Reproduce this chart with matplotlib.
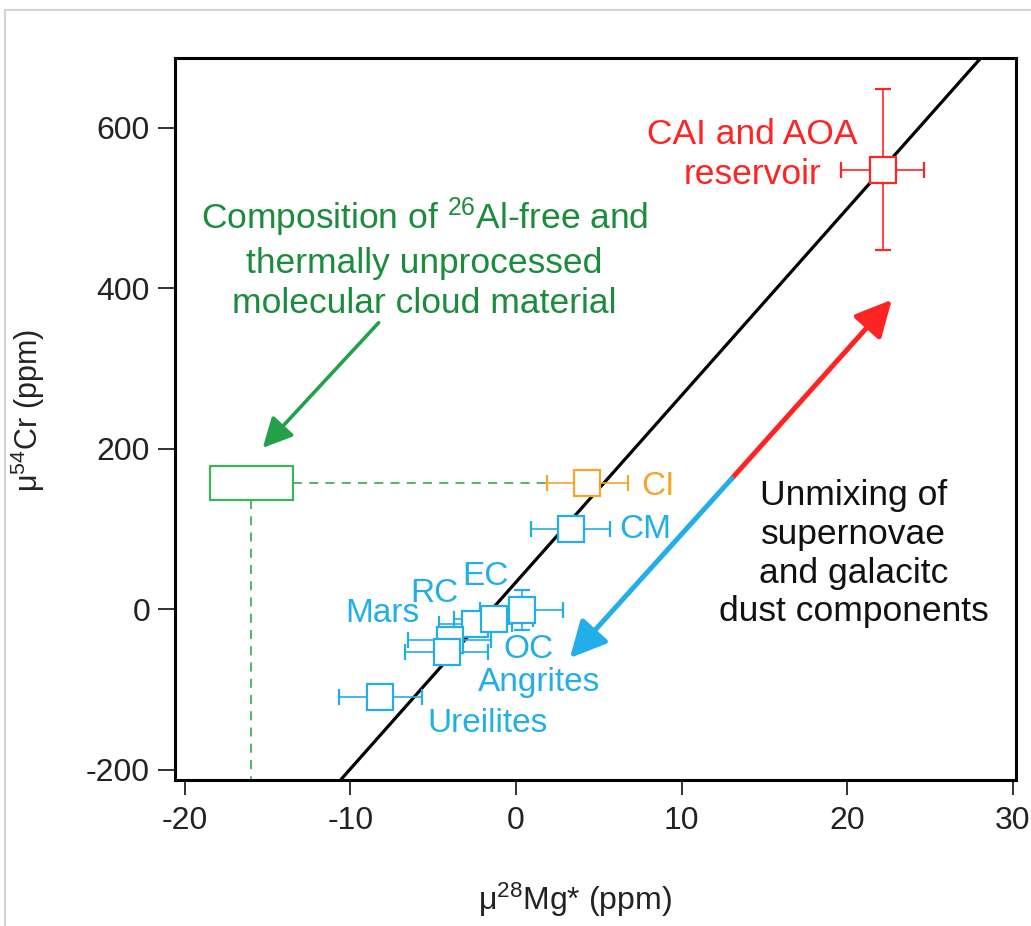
import matplotlib
matplotlib.use('Agg')
import matplotlib.pyplot as plt
from matplotlib.patches import Rectangle, FancyArrowPatch
from matplotlib.lines import Line2D
import numpy as np

plt.rcParams['font.family'] = ['Liberation Sans', 'DejaVu Sans']
plt.rcParams['mathtext.default'] = 'regular'

# ---------------- data ----------------
cai_x, cai_y, cai_xerr, cai_yerr = 22.15, 548, 2.5, 100
ci_x, ci_y, ci_xerr = 4.3, 157, 2.45
cm_x, cm_y, cm_xerr = 3.3, 100, 2.4
# cluster (Mars, RC, EC, OC, Angrites ...) and Ureilites
blue_x = [-2.45, -4.0, -1.35, 0.35, -4.2, -8.2]
blue_y = [-18, -38, -12, -1, -54, -110]
blue_xerr = [2.2, 2.5, 2.4, 2.5, 2.5, 2.5]
blue_yerr = [0, 0, 0, 25, 0, 0]

# 26Al-free molecular cloud composition box
cloud_x = [-18.5, -13.45]
cloud_y = [136, 178]
cloud_x_center = -16.0
cloud_y_center = 157

# correlation line
fit_slope = 23.27
fit_intercept = 33.7

# unmixing arrow (start at junction, ends)
mix_start = (13.03, 162.7)
mix_red_end = (22.7, 385.7)
mix_blue_end = (3.25, -61)
# green annotation arrow
green_arrow_start = (-8.3, 357)
green_arrow_end = (-15.3, 201)

xticks = [-20, -10, 0, 10, 20, 30]
yticks = [-200, 0, 200, 400, 600]
xlim = (-20.6, 30.2)
ylim = (-213, 687)

BLUE = '#22aee8'
ORANGE = '#f5a52a'
RED = '#ff2424'
GREEN_T = '#1a8c3c'
GREEN_L = '#3cb45a'

W, H = 1031, 926
fig = plt.figure(figsize=(W / 100, H / 100), dpi=100)
fig.patch.set_facecolor('white')

# light grey frame of the picture
fig.add_artist(Line2D([5 / W, 1.0], [1 - 10 / H, 1 - 10 / H], color='#d4d4d4', lw=1.5,
                      transform=fig.transFigure))
fig.add_artist(Line2D([5 / W, 5 / W], [0, 1 - 10 / H], color='#d4d4d4', lw=1.5,
                      transform=fig.transFigure))

ax = fig.add_axes([175 / W, 1 - 780 / H, 841 / W, 722 / H])
ax.set_xlim(*xlim)
ax.set_ylim(*ylim)

for s in ax.spines.values():
    s.set_linewidth(2.2)
    s.set_color('black')

ax.set_xticks(xticks)
ax.set_yticks(yticks)
ax.set_xticklabels([str(v) for v in xticks])
ax.set_yticklabels([str(v) for v in yticks])
ax.tick_params(axis='x', direction='out', length=11, width=1.3, pad=8, labelsize=23,
               colors='#222222')
ax.tick_params(axis='y', direction='out', length=12, width=1.3, pad=6, labelsize=23,
               colors='#222222')

# correlation line
xx = np.array(xlim)
ax.plot(xx, fit_slope * xx + fit_intercept, color='black', lw=2.3, zorder=3,
        solid_capstyle='butt')

# dashed projection lines
ax.plot([cloud_x[1], ci_x - ci_xerr], [cloud_y_center, cloud_y_center], color=GREEN_L,
        lw=1.3, ls=(0, (5, 4)), zorder=2)
ax.plot([cloud_x_center, cloud_x_center], [cloud_y[0], ylim[0]], color=GREEN_L,
        lw=1.3, ls=(0, (5, 4)), zorder=2)
ax.add_patch(Rectangle((cloud_x[0], cloud_y[0]), cloud_x[1] - cloud_x[0],
                       cloud_y[1] - cloud_y[0], fill=False, ec=GREEN_L, lw=1.6, zorder=4))

marker_kw = dict(fmt='s', ms=18.5, mfc='white', mew=1.6, elinewidth=1.2, capsize=6,
                 capthick=1.2)

for x, y, xe, ye in zip(blue_x, blue_y, blue_xerr, blue_yerr):
    ax.errorbar(x, y, xerr=xe, yerr=ye if ye else None, color=BLUE, mec=BLUE,
                zorder=5, **marker_kw)
ax.errorbar(cm_x, cm_y, xerr=cm_xerr, color=BLUE, mec=BLUE, zorder=5, **marker_kw)
ax.errorbar(ci_x, ci_y, xerr=ci_xerr, color=ORANGE, mec=ORANGE, zorder=5, **marker_kw)
ax.errorbar(cai_x, cai_y, xerr=cai_xerr, yerr=cai_yerr, color=RED, mec=RED, zorder=5,
            **marker_kw)

# unmixing arrows
ax.add_patch(FancyArrowPatch(mix_start, mix_red_end, arrowstyle='-|>,head_length=1.1,head_width=0.55',
                             mutation_scale=20, color=RED, lw=3.6, shrinkA=0, shrinkB=0,
                             zorder=6))
ax.add_patch(FancyArrowPatch(mix_start, mix_blue_end, arrowstyle='-|>,head_length=1.1,head_width=0.55',
                             mutation_scale=20, color=BLUE, lw=3.6, shrinkA=0, shrinkB=0,
                             zorder=6))
ax.add_patch(FancyArrowPatch(green_arrow_start, green_arrow_end,
                             arrowstyle='-|>,head_length=0.9,head_width=0.45',
                             mutation_scale=20, color='#22a04a', lw=2.6, shrinkA=0,
                             shrinkB=0, zorder=6))

# annotations
ax.text(-5.54, 438, 'Composition of $^{26}$Al-free and\nthermally unprocessed\nmolecular cloud material',
        color=GREEN_T, fontsize=25.5, ha='center', va='center', linespacing=1.28, zorder=7)
ax.text(14.26, 567, 'CAI and AOA\nreservoir', color=RED, fontsize=25.5, ha='center',
        va='center', linespacing=1.27, zorder=7)
ax.text(20.38, 69, 'Unmixing of\nsupernovae\nand galacitc\ndust components', color='#111111',
        fontsize=25.5, ha='center', va='center', linespacing=1.215, zorder=7)

lab_kw = dict(fontsize=24, ha='left', va='baseline', zorder=7)
ax.text(-10.33, -15.6, 'Mars', color=BLUE, **lab_kw)
ax.text(-6.39, 9.3, 'RC', color=BLUE, **lab_kw)
ax.text(-3.25, 30.5, 'EC', color=BLUE, **lab_kw)
ax.text(-0.76, -61.5, 'OC', color=BLUE, **lab_kw)
ax.text(-2.33, -102.5, 'Angrites', color=BLUE, **lab_kw)
ax.text(-5.36, -152.6, 'Ureilites', color=BLUE, **lab_kw)
ax.text(7.54, 142.7, 'CI', color=ORANGE, **lab_kw)
ax.text(6.21, 89.1, 'CM', color=BLUE, **lab_kw)

ax.set_xlabel('μ$^{28}$Mg* (ppm)', fontsize=23, color='#222222')
ax.xaxis.set_label_coords(0.4756, -0.140)
ax.set_ylabel('μ$^{54}$Cr (ppm)', fontsize=22, color='#222222')
ax.yaxis.set_label_coords(-0.152, 0.512)

fig.savefig('out.png', dpi=100, facecolor='white')
